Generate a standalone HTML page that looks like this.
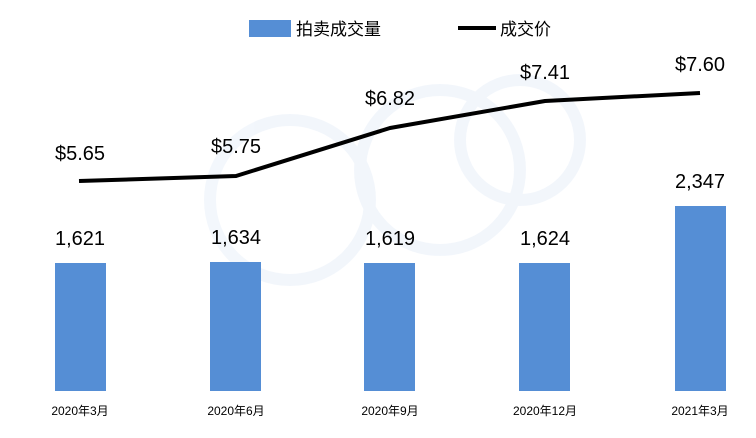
<!DOCTYPE html>
<html><head><meta charset="utf-8"><style>
body{margin:0;background:#fff;}
svg text{font-family:"Liberation Sans","Noto Sans CJK SC",sans-serif;fill:#000;}
</style></head><body>
<svg width="756" height="433" xmlns="http://www.w3.org/2000/svg">
<rect width="756" height="433" fill="#fff"/>
<g opacity="0.07" fill="none" stroke="#5b8fd6" stroke-width="12">
<circle cx="290" cy="200" r="80"/><circle cx="440" cy="170" r="80"/><circle cx="520" cy="140" r="60"/>
</g>
<rect x="249" y="20" width="42" height="17" fill="#558ed5"/>
<text x="296" y="35" font-size="17">拍卖成交量</text>
<line x1="458" y1="28" x2="496" y2="28" stroke="#000" stroke-width="4"/>
<text x="500" y="35" font-size="17">成交价</text>
<g fill="#558ed5">
<rect x="55" y="263" width="51" height="128"/>
<rect x="210" y="262" width="51" height="129"/>
<rect x="364" y="263" width="51" height="128"/>
<rect x="519" y="263" width="51" height="128"/>
<rect x="675" y="206" width="51" height="185"/>
</g>
<polyline points="79,181 236,176 390,128 545,101 700,93" fill="none" stroke="#000" stroke-width="4" stroke-linejoin="round"/>
<g font-size="20" text-anchor="middle">
<text x="80" y="245">1,621</text><text x="236" y="244">1,634</text><text x="390" y="245">1,619</text><text x="545" y="245">1,624</text><text x="700" y="188">2,347</text>
<text x="80" y="160">$5.65</text><text x="236" y="153">$5.75</text><text x="390" y="105">$6.82</text><text x="545" y="79">$7.41</text><text x="700" y="71">$7.60</text>
</g>
<g font-size="12" text-anchor="middle">
<text x="80" y="415">2020年3月</text><text x="236" y="415">2020年6月</text><text x="390" y="415">2020年9月</text><text x="545" y="415">2020年12月</text><text x="700" y="415">2021年3月</text>
</g>
</svg>
</body></html>
